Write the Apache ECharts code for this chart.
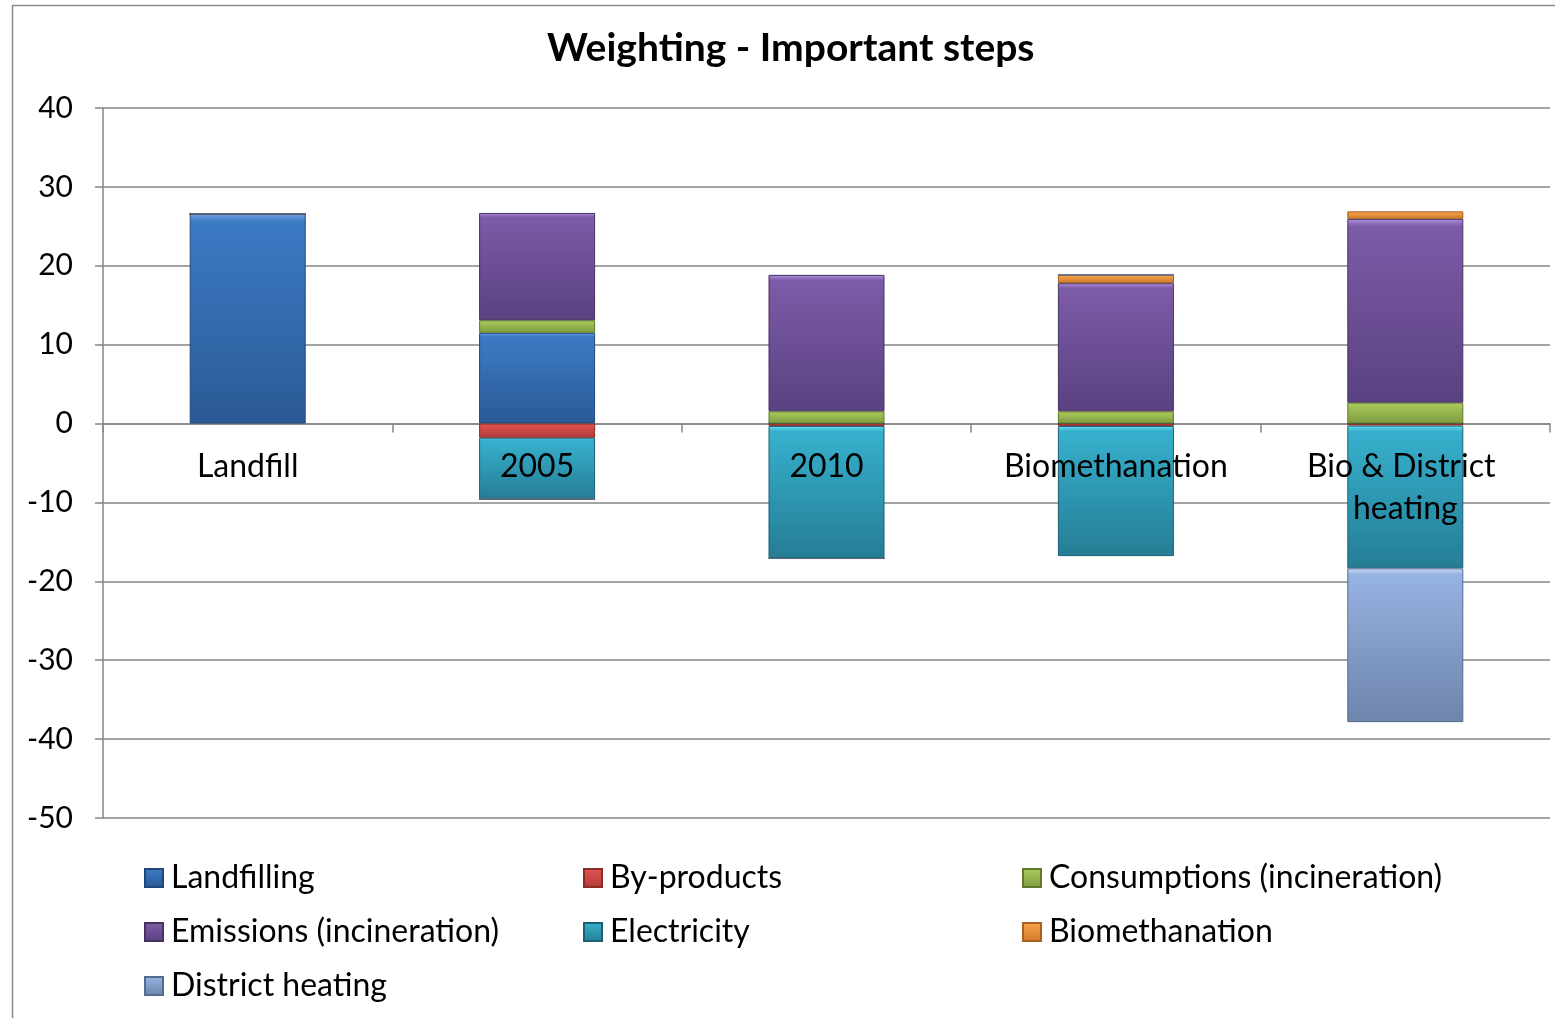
<!DOCTYPE html>
<html>
<head>
<meta charset="utf-8">
<title>Weighting - Important steps</title>
<script src="https://cdn.jsdelivr.net/npm/echarts@6/dist/echarts.min.js"></script>
<style>
  html, body { margin: 0; padding: 0; background: #ffffff; }
  #chart { width: 1555px; height: 1018px; }
</style>
</head>
<body>
<div id="chart"></div>
<script>
// Scenarios on the category axis
const categories = ['Landfill', '2005', '2010', 'Biomethanation', 'Bio & District heating'];

// Weighted contribution of each step, per scenario
const landfilling    = [26.6, 11.5, 0, 0, 0];
const byProducts     = [0, -1.8, -0.3, -0.3, -0.25];
const consumptions   = [0, 1.6, 1.55, 1.55, 2.65];
const emissions      = [0, 13.6, 17.3, 16.25, 23.3];
const electricity    = [0, -7.8, -16.8, -16.5, -18.1];
const biomethanation = [0, 0, 0, 1.05, 0.95];
const districtHeat   = [0, 0, 0, 0, -19.5];

// Value axis ticks
const yTicks = { min: -50, max: 40, interval: 10 };

const FONT = 'Lato, "Open Sans", sans-serif';

// Vertical shading with a light rim along the top edge
function shade(rim, top, bottom) {
  return {
    type: 'linear', x: 0, y: 0, x2: 0, y2: 1,
    colorStops: [
      { offset: 0, color: rim },
      { offset: 0.04, color: top },
      { offset: 1, color: bottom }
    ]
  };
}

const seriesDefs = [
  { name: 'Landfilling', data: landfilling, rim: '#6FA3E6', top: '#3C7AC4', bottom: '#2A5A96', border: '#1F4778' },
  { name: 'By-products', data: byProducts, rim: '#F08A86', top: '#E2534F', bottom: '#B23A37', border: '#8E2B29' },
  { name: 'Consumptions (incineration)', data: consumptions, rim: '#D0EC86', top: '#A9CA5C', bottom: '#7D9B3E', border: '#5F7A2C' },
  { name: 'Emissions (incineration)', data: emissions, rim: '#B08FE0', top: '#7C5BA8', bottom: '#5A4180', border: '#46325F' },
  { name: 'Electricity', data: electricity, rim: '#6FE0F5', top: '#37B0CD', bottom: '#257D95', border: '#1B5F72' },
  { name: 'Biomethanation', data: biomethanation, rim: '#FFC27A', top: '#F7A24B', bottom: '#D07A2A', border: '#A65F1F' },
  { name: 'District heating', data: districtHeat, rim: '#C8DCF8', top: '#97B3E2', bottom: '#6D84AB', border: '#566B8E' }
];

const series = seriesDefs.map(s => ({
  name: s.name,
  type: 'bar',
  stack: 'total',
  barWidth: 116,
  data: s.data,
  itemStyle: {
    color: shade(s.rim, s.top, s.bottom),
    borderColor: s.border,
    borderWidth: 1
  },
  emphasis: { disabled: true }
}));

function legendColumn(names, left) {
  return {
    data: names,
    orient: 'vertical',
    left: left,
    top: 857,
    itemWidth: 18,
    itemHeight: 18,
    itemGap: 22,
    icon: 'rect',
    selectedMode: false,
    textStyle: { fontFamily: FONT, fontSize: 32, color: '#000', lineHeight: 32, padding: [0, 0, 0, 3] }
  };
}

const chart = echarts.init(document.getElementById('chart'), null, { renderer: 'canvas' });

chart.setOption({
  backgroundColor: '#ffffff',
  animation: false,
  title: {
    text: 'Weighting - Important steps',
    left: 542,
    top: 24,
    textStyle: { fontFamily: FONT, fontSize: 39, fontWeight: 'bold', color: '#000' }
  },
  graphic: [{
    type: 'rect',
    shape: { x: 12.5, y: 5.5, width: 1560, height: 1030 },
    style: { fill: null, stroke: '#8a8a8a', lineWidth: 1.5 },
    silent: true,
    z: -1
  }],
  legend: [
    legendColumn(['Landfilling', 'Emissions (incineration)', 'District heating'], 139),
    legendColumn(['By-products', 'Electricity'], 578),
    legendColumn(['Consumptions (incineration)', 'Biomethanation'], 1017)
  ],
  grid: { left: 103, right: 5, top: 108, bottom: 200, containLabel: false },
  xAxis: [{
    // axis line and boundary ticks along the zero line
    type: 'category',
    data: categories,
    axisLine: { onZero: true, lineStyle: { color: '#868686', width: 1.5 } },
    axisTick: { show: true, length: 9, lineStyle: { color: '#868686', width: 1.5 } },
    axisLabel: { show: false },
    splitLine: { show: false }
  }, {
    // category names, set just under the zero line and above the bars
    type: 'category',
    data: categories,
    position: 'bottom',
    offset: -394,
    z: 10,
    axisLine: { show: false },
    axisTick: { show: false },
    axisLabel: {
      fontFamily: FONT, fontSize: 32, color: '#000',
      margin: 22, lineHeight: 42,
      width: 260, overflow: 'break', interval: 0
    },
    splitLine: { show: false }
  }],
  yAxis: {
    type: 'value',
    min: yTicks.min,
    max: yTicks.max,
    interval: yTicks.interval,
    axisLine: { show: true, lineStyle: { color: '#868686', width: 1.5 } },
    axisTick: { show: true, length: 8, lineStyle: { color: '#868686', width: 1.5 } },
    axisLabel: { fontFamily: FONT, fontSize: 30, color: '#000', margin: 30 },
    splitLine: { show: true, lineStyle: { color: '#868686', width: 1.5 } }
  },
  series: series
});
</script>
</body>
</html>
